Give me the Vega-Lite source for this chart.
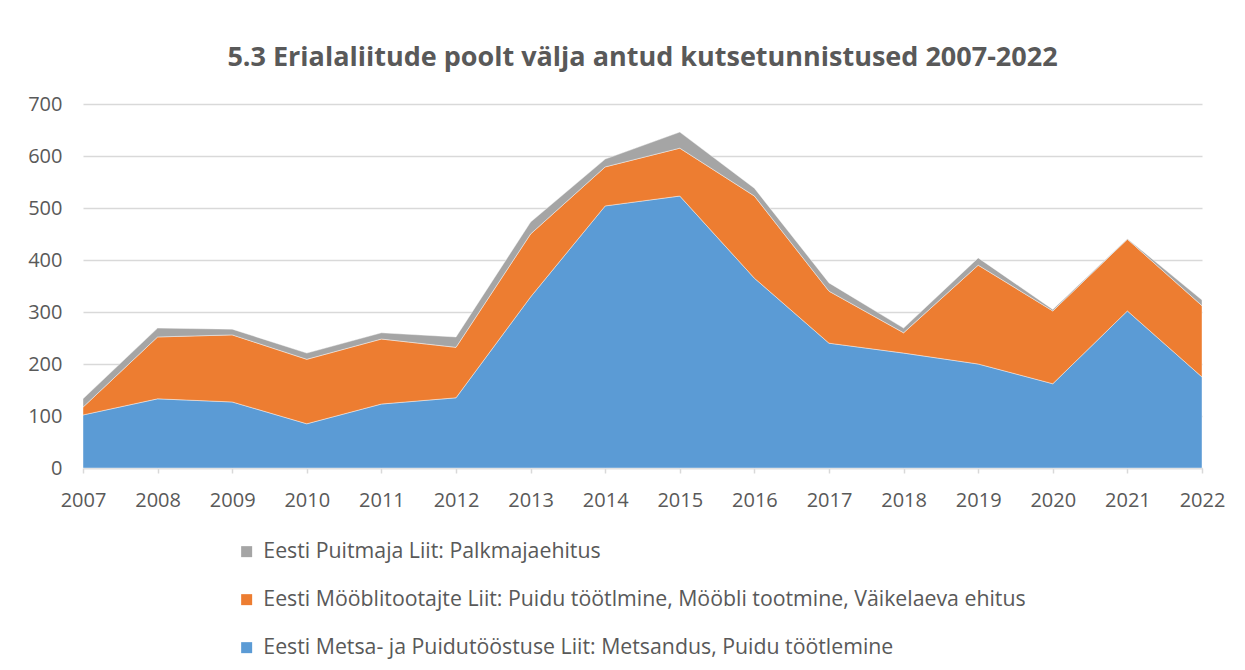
{
  "$schema": "https://vega.github.io/schema/vega-lite/v6.json",
  "autosize": "none",
  "width": 1119,
  "height": 364,
  "padding": {"left": 83, "top": 104, "right": 43, "bottom": 202},
  "background": "white",
  "title": {
    "text": "5.3 Erialaliitude poolt välja antud kutsetunnistused 2007-2022",
    "font": "Open Sans",
    "fontSize": 27,
    "fontWeight": "bold",
    "color": "#595959",
    "anchor": "middle",
    "offset": 22
  },
  "config": {
    "view": {"stroke": null},
    "font": "Open Sans"
  },
  "data": {
    "values": [
      {"year": "2007", "Eesti Metsa- ja Puidutööstuse Liit: Metsandus, Puidu töötlemine": 102, "Eesti Mööblitootajte Liit: Puidu töötlmine, Mööbli tootmine, Väikelaeva ehitus": 15, "Eesti Puitmaja Liit: Palkmajaehitus": 16},
      {"year": "2008", "Eesti Metsa- ja Puidutööstuse Liit: Metsandus, Puidu töötlemine": 133, "Eesti Mööblitootajte Liit: Puidu töötlmine, Mööbli tootmine, Väikelaeva ehitus": 119, "Eesti Puitmaja Liit: Palkmajaehitus": 17},
      {"year": "2009", "Eesti Metsa- ja Puidutööstuse Liit: Metsandus, Puidu töötlemine": 127, "Eesti Mööblitootajte Liit: Puidu töötlmine, Mööbli tootmine, Väikelaeva ehitus": 129, "Eesti Puitmaja Liit: Palkmajaehitus": 11},
      {"year": "2010", "Eesti Metsa- ja Puidutööstuse Liit: Metsandus, Puidu töötlemine": 85, "Eesti Mööblitootajte Liit: Puidu töötlmine, Mööbli tootmine, Väikelaeva ehitus": 124, "Eesti Puitmaja Liit: Palkmajaehitus": 12},
      {"year": "2011", "Eesti Metsa- ja Puidutööstuse Liit: Metsandus, Puidu töötlemine": 123, "Eesti Mööblitootajte Liit: Puidu töötlmine, Mööbli tootmine, Väikelaeva ehitus": 125, "Eesti Puitmaja Liit: Palkmajaehitus": 12},
      {"year": "2012", "Eesti Metsa- ja Puidutööstuse Liit: Metsandus, Puidu töötlemine": 135, "Eesti Mööblitootajte Liit: Puidu töötlmine, Mööbli tootmine, Väikelaeva ehitus": 97, "Eesti Puitmaja Liit: Palkmajaehitus": 20},
      {"year": "2013", "Eesti Metsa- ja Puidutööstuse Liit: Metsandus, Puidu töötlemine": 329, "Eesti Mööblitootajte Liit: Puidu töötlmine, Mööbli tootmine, Väikelaeva ehitus": 121, "Eesti Puitmaja Liit: Palkmajaehitus": 23},
      {"year": "2014", "Eesti Metsa- ja Puidutööstuse Liit: Metsandus, Puidu töötlemine": 504, "Eesti Mööblitootajte Liit: Puidu töötlmine, Mööbli tootmine, Väikelaeva ehitus": 75, "Eesti Puitmaja Liit: Palkmajaehitus": 15},
      {"year": "2015", "Eesti Metsa- ja Puidutööstuse Liit: Metsandus, Puidu töötlemine": 523, "Eesti Mööblitootajte Liit: Puidu töötlmine, Mööbli tootmine, Väikelaeva ehitus": 92, "Eesti Puitmaja Liit: Palkmajaehitus": 31},
      {"year": "2016", "Eesti Metsa- ja Puidutööstuse Liit: Metsandus, Puidu töötlemine": 365, "Eesti Mööblitootajte Liit: Puidu töötlmine, Mööbli tootmine, Väikelaeva ehitus": 158, "Eesti Puitmaja Liit: Palkmajaehitus": 15},
      {"year": "2017", "Eesti Metsa- ja Puidutööstuse Liit: Metsandus, Puidu töötlemine": 240, "Eesti Mööblitootajte Liit: Puidu töötlmine, Mööbli tootmine, Väikelaeva ehitus": 100, "Eesti Puitmaja Liit: Palkmajaehitus": 16},
      {"year": "2018", "Eesti Metsa- ja Puidutööstuse Liit: Metsandus, Puidu töötlemine": 221, "Eesti Mööblitootajte Liit: Puidu töötlmine, Mööbli tootmine, Väikelaeva ehitus": 39, "Eesti Puitmaja Liit: Palkmajaehitus": 9},
      {"year": "2019", "Eesti Metsa- ja Puidutööstuse Liit: Metsandus, Puidu töötlemine": 200, "Eesti Mööblitootajte Liit: Puidu töötlmine, Mööbli tootmine, Väikelaeva ehitus": 190, "Eesti Puitmaja Liit: Palkmajaehitus": 14},
      {"year": "2020", "Eesti Metsa- ja Puidutööstuse Liit: Metsandus, Puidu töötlemine": 162, "Eesti Mööblitootajte Liit: Puidu töötlmine, Mööbli tootmine, Väikelaeva ehitus": 140, "Eesti Puitmaja Liit: Palkmajaehitus": 3},
      {"year": "2021", "Eesti Metsa- ja Puidutööstuse Liit: Metsandus, Puidu töötlemine": 302, "Eesti Mööblitootajte Liit: Puidu töötlmine, Mööbli tootmine, Väikelaeva ehitus": 138, "Eesti Puitmaja Liit: Palkmajaehitus": 1},
      {"year": "2022", "Eesti Metsa- ja Puidutööstuse Liit: Metsandus, Puidu töötlemine": 175, "Eesti Mööblitootajte Liit: Puidu töötlmine, Mööbli tootmine, Väikelaeva ehitus": 137, "Eesti Puitmaja Liit: Palkmajaehitus": 11}
    ]
  },
  "transform": [
    {"fold": [
      "Eesti Metsa- ja Puidutööstuse Liit: Metsandus, Puidu töötlemine",
      "Eesti Mööblitootajte Liit: Puidu töötlmine, Mööbli tootmine, Väikelaeva ehitus",
      "Eesti Puitmaja Liit: Palkmajaehitus"
    ], "as": ["series", "value"]}
  ],
  "mark": {"type": "area", "stroke": "#ffffff", "strokeWidth": 0.6, "strokeOpacity": 0.7},
  "encoding": {
    "x": {
      "field": "year",
      "type": "ordinal",
      "scale": {"type": "point", "padding": 0},
      "axis": {
        "title": null,
        "labelAngle": 0,
        "labelFont": "Open Sans",
        "labelFontSize": 20,
        "labelColor": "#595959",
        "labelPadding": 17,
        "ticks": true,
        "tickSize": 5,
        "tickColor": "#d9d9d9",
        "tickWidth": 1.5,
        "domainColor": "#d9d9d9",
        "domainWidth": 1.5,
        "grid": false
      }
    },
    "y": {
      "field": "value",
      "type": "quantitative",
      "stack": "zero",
      "scale": {"domain": [0, 700], "nice": false},
      "axis": {
        "title": null,
        "values": [0, 100, 200, 300, 400, 500, 600, 700],
        "labelFont": "Open Sans",
        "labelFontSize": 20,
        "labelColor": "#595959",
        "labelPadding": 21,
        "ticks": false,
        "domain": false,
        "gridColor": "#d9d9d9",
        "gridWidth": 1.5
      }
    },
    "color": {
      "field": "series",
      "type": "nominal",
      "scale": {
        "domain": [
          "Eesti Puitmaja Liit: Palkmajaehitus",
          "Eesti Mööblitootajte Liit: Puidu töötlmine, Mööbli tootmine, Väikelaeva ehitus",
          "Eesti Metsa- ja Puidutööstuse Liit: Metsandus, Puidu töötlemine"
        ],
        "range": ["#a5a5a5", "#ed7d31", "#5b9bd5"]
      },
      "legend": {
        "title": null,
        "orient": "none",
        "legendX": 153,
        "legendY": 437,
        "direction": "vertical",
        "symbolType": "square",
        "symbolSize": 121,
        "symbolStrokeWidth": 0,
        "labelFont": "Open Sans",
        "labelFontSize": 21.3,
        "labelColor": "#595959",
        "labelLimit": 0,
        "labelOffset": 6,
        "rowPadding": 26
      }
    },
    "order": {"field": "series", "sort": "ascending"}
  }
}
